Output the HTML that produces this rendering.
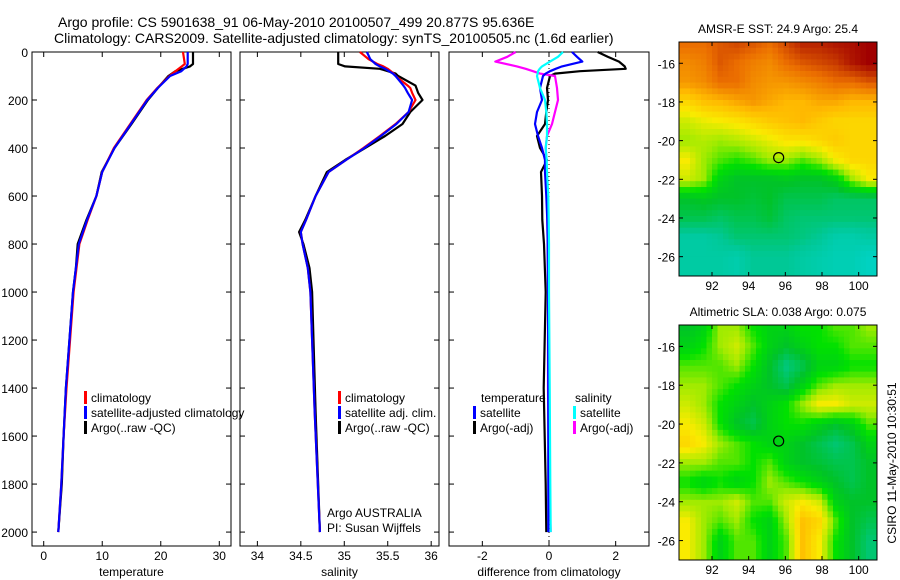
<!DOCTYPE html>
<html><head><meta charset="utf-8"><style>
body{margin:0;background:#fff;}
svg{display:block;font-family:"Liberation Sans",sans-serif;}
</style></head><body>
<svg id="fig" width="900" height="580" xmlns="http://www.w3.org/2000/svg">
<text x="58" y="27" font-size="14">Argo profile: CS 5901638_91 06-May-2010 20100507_499 20.877S 95.636E</text>
<text x="54" y="43" font-size="14">Climatology: CARS2009. Satellite-adjusted climatology: synTS_20100505.nc (1.6d earlier)</text>
<g id="g"></g>
</svg>
<script>
// ---- data ----
const depthTicks=[0,200,400,600,800,1000,1200,1400,1600,1800,2000];
const tempTicks=[0,10,20,30];
const salTicks=[34,34.5,35,35.5,36];
const diffTicks=[-2,0,2];
const tDepth=[0,50,60,80,100,150,200,300,400,500,600,700,800,900,1000,1400,1600,1800,2000];
const tArgo=[25.5,25.5,25.0,22.5,21.3,19.5,17.8,15.0,12.1,9.9,9.0,7.3,5.8,5.5,5.0,3.8,3.4,3.1,2.5];
const tClim=[23.8,24.1,23.6,22.5,21.5,19.4,17.6,14.8,12.0,10.0,9.0,7.5,6.1,5.6,5.1,3.9,3.4,3.0,2.5];
const tSat=[24.6,24.6,24.4,23.5,21.6,19.5,17.7,14.9,12.1,10.0,9.0,7.4,6.0,5.5,5.0,3.8,3.4,3.0,2.5];
const sDepth=[0,30,50,60,70,90,100,140,150,170,200,250,300,350,400,450,500,600,700,750,800,900,1000,1500,2000];
const sArgo=[34.93,34.93,34.93,35.01,35.41,35.59,35.62,35.82,35.83,35.85,35.9,35.76,35.67,35.47,35.24,35.01,34.8,34.67,34.55,34.48,34.53,34.6,34.63,34.67,34.72];
const sClim=[35.18,35.28,35.38,35.45,35.5,35.57,35.59,35.73,35.76,35.78,35.82,35.74,35.59,35.41,35.22,35.02,34.82,34.67,34.56,34.5,34.52,34.58,34.61,34.66,34.72];
const sSat=[35.26,35.3,35.36,35.41,35.47,35.56,35.59,35.68,35.7,35.73,35.78,35.74,35.6,35.42,35.23,35.02,34.82,34.67,34.56,34.5,34.52,34.58,34.61,34.66,34.72];
const dDepth=[0,20,40,60,70,80,90,100,150,200,250,300,350,400,450,500,600,700,800,1000,1400,1800,2000];
const dTempArgo=[1.46,1.76,2.1,2.27,2.3,0.93,0.18,0.03,-0.06,-0.03,-0.08,-0.12,-0.36,-0.27,-0.06,-0.24,-0.21,-0.2,-0.15,-0.1,-0.16,-0.1,-0.08];
const dTempSat=[0.69,0.84,1.0,0.39,0.2,0.03,-0.1,-0.18,-0.27,-0.21,-0.36,-0.42,-0.33,-0.21,-0.12,-0.12,-0.08,-0.05,-0.04,-0.03,-0.02,-0.02,-0.02];
const dSalArgo=[-1.0,-1.25,-1.61,-0.96,-0.7,-0.48,-0.27,0.18,0.24,0.27,0.18,0.09,-0.06,-0.1,-0.08,-0.09,-0.06,-0.05,-0.04,-0.03,-0.03,0.0,0.05];
const dSalSat=[0.42,0.27,0.03,-0.21,-0.28,-0.33,-0.34,-0.36,-0.27,-0.12,-0.08,-0.06,-0.06,-0.1,-0.07,-0.06,-0.02,-0.01,0,0,0.02,0.04,0.05];
const lonTicks=[92,94,96,98,100];
const latTicks=[-16,-18,-20,-22,-24,-26];
const sstGrid=[
[0.85,0.85,0.88,0.9,0.88,0.85,0.9,0.95,0.95,0.97,0.98,1.0],
[0.8,0.82,0.88,0.85,0.82,0.8,0.85,0.88,0.9,0.92,0.97,1.0],
[0.78,0.8,0.85,0.85,0.8,0.78,0.78,0.8,0.82,0.85,0.85,0.88],
[0.65,0.7,0.72,0.75,0.78,0.75,0.72,0.72,0.75,0.75,0.72,0.72],
[0.55,0.58,0.6,0.62,0.65,0.68,0.7,0.72,0.68,0.65,0.65,0.65],
[0.5,0.52,0.5,0.52,0.55,0.58,0.62,0.62,0.65,0.68,0.65,0.65],
[0.6,0.5,0.45,0.42,0.45,0.5,0.5,0.45,0.5,0.6,0.65,0.65],
[0.55,0.5,0.35,0.3,0.3,0.3,0.32,0.3,0.3,0.35,0.5,0.6],
[0.3,0.32,0.3,0.3,0.28,0.3,0.25,0.25,0.25,0.22,0.22,0.22],
[0.25,0.25,0.22,0.25,0.25,0.28,0.22,0.2,0.2,0.2,0.2,0.2],
[0.12,0.12,0.15,0.2,0.2,0.2,0.2,0.18,0.15,0.1,0.1,0.12],
[0.12,0.12,0.12,0.1,0.15,0.15,0.15,0.12,0.1,0.08,0.08,0.05]];
const slaGrid=[
[0.3,0.35,0.5,0.5,0.4,0.35,0.35,0.4,0.4,0.45,0.45,0.5],
[0.35,0.4,0.5,0.55,0.45,0.35,0.3,0.35,0.4,0.4,0.45,0.45],
[0.45,0.45,0.45,0.5,0.4,0.3,0.18,0.25,0.35,0.35,0.4,0.4],
[0.5,0.5,0.45,0.4,0.35,0.3,0.25,0.35,0.45,0.5,0.5,0.5],
[0.55,0.5,0.4,0.35,0.3,0.35,0.4,0.5,0.6,0.6,0.55,0.55],
[0.6,0.55,0.4,0.3,0.25,0.35,0.4,0.4,0.35,0.3,0.35,0.45],
[0.65,0.6,0.5,0.45,0.4,0.35,0.35,0.3,0.25,0.2,0.25,0.35],
[0.5,0.5,0.45,0.45,0.4,0.45,0.35,0.3,0.28,0.25,0.25,0.3],
[0.4,0.35,0.4,0.35,0.4,0.5,0.45,0.4,0.35,0.3,0.25,0.3],
[0.5,0.5,0.5,0.55,0.45,0.45,0.55,0.6,0.55,0.35,0.3,0.3],
[0.6,0.5,0.45,0.5,0.4,0.35,0.5,0.7,0.65,0.45,0.3,0.25],
[0.6,0.5,0.35,0.45,0.45,0.35,0.45,0.7,0.6,0.4,0.3,0.2]];
const floatLon=95.636, floatLat=-20.877;

// ---- drawing ----
const NS="http://www.w3.org/2000/svg";
const G=document.getElementById('g');
function mk(tag,attrs,parent){const e=document.createElementNS(NS,tag);for(const k in attrs)e.setAttribute(k,attrs[k]);(parent||G).appendChild(e);return e;}
const Y0=52,Y1=546,D0=0,D1=2058;
const yD=d=>Y0+(d-D0)/(D1-D0)*(Y1-Y0);
const panels=[
 {x0:32,x1:231,v0:-2,v1:32,ticks:tempTicks,label:'temperature',name:'temperature'},
 {x0:240,x1:439,v0:33.8,v1:36.09,ticks:salTicks,label:'salinity',name:'salinity'},
 {x0:449,x1:649,v0:-3,v1:3,ticks:diffTicks,label:'difference from climatology',name:'difference'}];
panels.forEach((p,pi)=>{
 p.sx=v=>p.x0+(v-p.v0)/(p.v1-p.v0)*(p.x1-p.x0);
 const ax=mk('g',{});
 
 
 mk('rect',{x:p.x0,y:Y0,width:p.x1-p.x0,height:Y1-Y0,fill:'none',stroke:'#000','stroke-width':1},ax);
 depthTicks.forEach(d=>{const y=yD(d);
  mk('line',{x1:p.x0,x2:p.x0+5,y1:y,y2:y,stroke:'#000'},ax);
  mk('line',{x1:p.x1-5,x2:p.x1,y1:y,y2:y,stroke:'#000'},ax);
  if(pi===0){const t=mk('text',{x:p.x0-4,y:y+5,'font-size':12,'text-anchor':'end'},ax);t.textContent=d;
   
   }
 });
 p.ticks.forEach(v=>{const x=p.sx(v);
  mk('line',{x1:x,x2:x,y1:Y0,y2:Y0+5,stroke:'#000'},ax);
  mk('line',{x1:x,x2:x,y1:Y1-5,y2:Y1,stroke:'#000'},ax);
  const t=mk('text',{x:x,y:Y1+14,'font-size':12,'text-anchor':'middle'},ax);t.textContent=v;
  
  
 });
 const xl=mk('text',{x:(p.x0+p.x1)/2,y:Y1+30,'font-size':12,'text-anchor':'middle'},ax);xl.textContent=p.label;
 
 
});
// zero line
{const p=panels[2];const z=mk('line',{x1:p.sx(0),x2:p.sx(0),y1:Y0,y2:Y1,stroke:'#000','stroke-dasharray':'1,3'});
 
 }
function line(p,depths,vals,color,name){
 const pts=depths.map((d,i)=>p.sx(vals[i]).toFixed(1)+','+yD(d).toFixed(1)).join(' ');
 const l=mk('polyline',{points:pts,fill:'none',stroke:color,'stroke-width':2.2,'stroke-linejoin':'round'});
 
 
}
line(panels[0],tDepth,tArgo,'#000','temperature-argo-line');
line(panels[0],tDepth,tClim,'#f00','temperature-climatology-line');
line(panels[0],tDepth,tSat,'#00f','temperature-satellite-line');
line(panels[1],sDepth,sArgo,'#000','salinity-argo-line');
line(panels[1],sDepth,sClim,'#f00','salinity-climatology-line');
line(panels[1],sDepth,sSat,'#00f','salinity-satellite-line');
line(panels[2],dDepth,dTempArgo,'#000','diff-temperature-argo-line');
line(panels[2],dDepth,dSalArgo,'#f0f','diff-salinity-argo-line');
line(panels[2],dDepth,dTempSat,'#00f','diff-temperature-satellite-line');
line(panels[2],dDepth,dSalSat,'#0ff','diff-salinity-satellite-line');
function legend(x,y,color,text,name){
 const g=mk('g',{});
 
 
 if(color)mk('rect',{x:x,y:y-11,width:3,height:13,fill:color},g);
 const t=mk('text',{x:x+7,y:y,'font-size':12},g);t.textContent=text;
}
legend(84,402,'#f00','climatology','legend-climatology');
legend(84,417,'#00f','satellite-adjusted climatology','legend-satellite');
legend(84,432,'#000','Argo(..raw -QC)','legend-argo');
legend(338,402,'#f00','climatology','legend-sal-climatology');
legend(338,417,'#00f','satellite adj. clim.','legend-sal-satellite');
legend(338,432,'#000','Argo(..raw -QC)','legend-sal-argo');
legend(474,402,null,'temperature','legend-temperature-header');
legend(473,417,'#00f','satellite','legend-diff-temp-satellite');
legend(473,432,'#000','Argo(-adj)','legend-diff-temp-argo');
legend(568,402,null,'salinity','legend-salinity-header');
legend(573,417,'#0ff','satellite','legend-diff-sal-satellite');
legend(573,432,'#f0f','Argo(-adj)','legend-diff-sal-argo');
{const a=mk('text',{x:327,y:517,'font-size':12});a.textContent='Argo AUSTRALIA';
 
 const b=mk('text',{x:327,y:532,'font-size':12});b.textContent='PI: Susan Wijffels';
 }

// maps
const stops=[[0,[0,215,215]],[0.15,[0,200,150]],[0.3,[0,195,40]],[0.4,[0,225,0]],[0.5,[160,235,0]],[0.6,[250,235,0]],[0.72,[255,185,0]],[0.85,[235,110,0]],[1,[160,0,0]]];
function cmap(v){for(let i=1;i<stops.length;i++){if(v<=stops[i][0]){const a=stops[i-1],b=stops[i];const t=(v-a[0])/(b[0]-a[0]);
 return 'rgb('+a[1].map((c,k)=>Math.round(c+(b[1][k]-c)*t)).join(',')+')';}}return 'rgb(160,0,0)';}
const LON0=90.2,LON1=101,LAT0=-14.9,LAT1=-27;
function drawMap(mx0,mx1,my0,my1,grid,title,name,smooth){
 const g=mk('g',{});
 
 
 const lx=l=>mx0+(l-LON0)/(LON1-LON0)*(mx1-mx0);
 const ly=l=>my0+(l-LAT0)/(LAT1-LAT0)*(my1-my0);
 const nc=grid[0].length,nr=grid.length,dl=(LON1-LON0)/nc;
 const step=0.3;
 for(let lat=LAT0;lat>LAT1;lat-=step){for(let lon=LON0;lon<LON1;lon+=step){
  const fc=(lon+step/2-LON0)/dl-0.5, fr=(-15-(lat-step/2))*1; // row index
  const c0=Math.max(0,Math.min(nc-1,Math.floor(fc))),c1=Math.min(nc-1,c0+1),r0=Math.max(0,Math.min(nr-1,Math.floor(fr))),r1=Math.min(nr-1,r0+1);
  const tc=Math.max(0,Math.min(1,fc-c0)),tr=Math.max(0,Math.min(1,fr-r0));
  let v=(grid[r0][c0]*(1-tc)+grid[r0][c1]*tc)*(1-tr)+(grid[r1][c0]*(1-tc)+grid[r1][c1]*tc)*tr;
  const x=lx(lon),y=ly(lat),w=lx(Math.min(lon+step,LON1))-x+0.5,h=ly(Math.max(lat-step,LAT1))-y+0.5;
  mk('rect',{x:x.toFixed(1),y:y.toFixed(1),width:w.toFixed(1),height:h.toFixed(1),fill:cmap(v)},g);
 }}
 mk('rect',{x:mx0,y:my0,width:mx1-mx0,height:my1-my0,fill:'none',stroke:'#000'},g);
 lonTicks.forEach(l=>{const x=lx(l);mk('line',{x1:x,x2:x,y1:my0,y2:my0+4,stroke:'#000'},g);mk('line',{x1:x,x2:x,y1:my1-4,y2:my1,stroke:'#000'},g);
  const t=mk('text',{x:x,y:my1+14,'font-size':12,'text-anchor':'middle'},g);t.textContent=l;
  });
 latTicks.forEach(l=>{const y=ly(l);mk('line',{x1:mx0,x2:mx0+4,y1:y,y2:y,stroke:'#000'},g);mk('line',{x1:mx1-4,x2:mx1,y1:y,y2:y,stroke:'#000'},g);
  const t=mk('text',{x:mx0-4,y:y+5,'font-size':12,'text-anchor':'end'},g);t.textContent=l;
  });
 const c=mk('circle',{cx:lx(floatLon),cy:ly(floatLat),r:5,fill:'none',stroke:'#000','stroke-width':1.2},g);
 
 const t=mk('text',{x:(mx0+mx1)/2,y:my0-9,'font-size':12,'text-anchor':'middle'},g);t.textContent=title;
 
}
drawMap(679,877,42,276,sstGrid,'AMSR-E SST: 24.9 Argo: 25.4','sst-map');
drawMap(679,877,325,560,slaGrid,'Altimetric SLA: 0.038 Argo: 0.075','sla-map');
{const t=mk('text',{x:0,y:0,'font-size':12,'text-anchor':'middle',transform:'translate(896,463) rotate(-90)'});t.textContent='CSIRO 11-May-2010 10:30:51';
 }
</script>
</body></html>
